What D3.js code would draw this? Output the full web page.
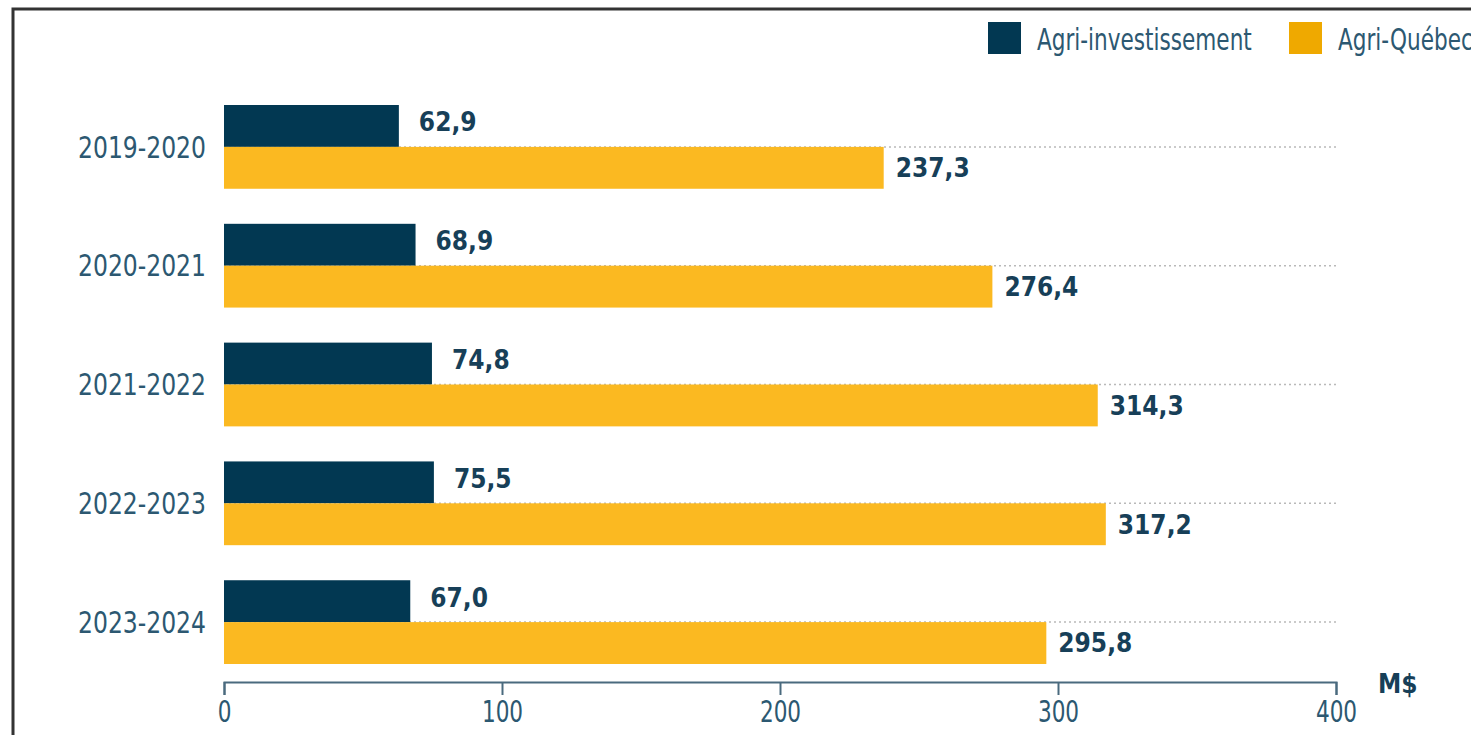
<!DOCTYPE html>
<html>
<head>
<meta charset="utf-8">
<script src="https://cdn.jsdelivr.net/npm/d3@7"></script>
<style>
  html, body { margin: 0; padding: 0; background: #fff; }
  svg { display: block; }
  .reg { font-family: "DejaVu Sans Condensed", "Liberation Sans Narrow", sans-serif; }
  .bold { font-family: "DejaVu Sans Condensed", "Liberation Sans Narrow", sans-serif; font-weight: bold; }
</style>
</head>
<body>
<svg id="chart"></svg>
<script>
const categories = ["2019-2020", "2020-2021", "2021-2022", "2022-2023", "2023-2024"];
const series = ["Agri-investissement", "Agri-Québec"];
const agriInvestissement = [62.9, 68.9, 74.8, 75.5, 67.0];
const agriQuebec = [237.3, 276.4, 314.3, 317.2, 295.8];
const xTicks = [0, 100, 200, 300, 400];
const unitLabel = "M$";

const barColors = ["#023852", "#FBB921"];
const legendColors = ["#023852", "#EFA900"];
const textColor = "#2c5871";
const valueColor = "#173f58";
const axisColor = "#4a6a7e";

const W = 1471, H = 735;
const svg = d3.select("#chart")
    .attr("width", W)
    .attr("height", H)
    .attr("viewBox", [0, 0, W, H]);

// frame
svg.append("path")
    .attr("d", "M13,735V9H1471")
    .attr("fill", "none")
    .attr("stroke", "#333")
    .attr("stroke-width", 3);

const x = d3.scaleLinear().domain([0, 400]).range([224, 1336]);
const y = d3.scaleBand().domain(categories).range([105, 664]).paddingInner(0.295);
const ySub = d3.scaleBand().domain(series).range([0, y.bandwidth()]);

const rows = categories.map((c, i) => ({cat: c, values: [agriInvestissement[i], agriQuebec[i]]}));

// dotted guide lines
svg.append("g").selectAll("line")
    .data(categories)
    .join("line")
    .attr("x1", x(0))
    .attr("x2", x(400))
    .attr("y1", d => y(d) + y.bandwidth() / 2)
    .attr("y2", d => y(d) + y.bandwidth() / 2)
    .attr("stroke", "#b9b9b9")
    .attr("stroke-width", 1.5)
    .attr("stroke-dasharray", "2,3");

const group = svg.append("g").selectAll("g")
    .data(rows)
    .join("g")
    .attr("transform", d => "translate(0," + y(d.cat) + ")");

group.selectAll("rect")
    .data(d => d.values.map((v, i) => ({s: series[i], v: v, i: i})))
    .join("rect")
    .attr("x", x(0))
    .attr("y", d => ySub(d.s))
    .attr("width", d => x(d.v) - x(0))
    .attr("height", ySub.bandwidth())
    .attr("fill", d => barColors[d.i]);

const labelOffset = [20, 12];
group.selectAll("text.val")
    .data(d => d.values.map((v, i) => ({s: series[i], v: v, i: i})))
    .join("text")
    .attr("class", "val bold")
    .attr("x", d => x(d.v) + labelOffset[d.i])
    .attr("y", d => ySub(d.s) + ySub.bandwidth() / 2 - (d.i === 0 ? 4 : 0))
    .attr("dy", "0.36em")
    .attr("font-size", 26)
    .attr("fill", valueColor)
    .text(d => d3.format(".1f")(d.v).replace(".", ","));

// category labels (narrowed to mimic the condensed face)
svg.append("g").selectAll("text")
    .data(categories)
    .join("text")
    .attr("class", "reg")
    .attr("transform", d => "translate(206," + (y(d) + y.bandwidth() / 2) + ") scale(0.87,1)")
    .attr("dy", "0.36em")
    .attr("text-anchor", "end")
    .attr("font-size", 30)
    .attr("fill", textColor)
    .text(d => d);

// x axis
const axis = svg.append("g")
    .attr("transform", "translate(0,682)")
    .call(d3.axisBottom(x).tickValues(xTicks).tickSize(13).tickSizeOuter(13).tickPadding(6));
axis.selectAll("path, line").attr("stroke", axisColor).attr("stroke-width", 2);
axis.selectAll("text")
    .attr("class", "reg")
    .attr("font-size", 30)
    .attr("transform", "scale(0.8,1)")
    .attr("fill", textColor);

svg.append("text")
    .attr("class", "bold")
    .attr("x", 1378)
    .attr("y", 693)
    .attr("font-size", 26)
    .attr("fill", valueColor)
    .text(unitLabel);

// legend
const legendX = [988, 1289];
const legend = svg.append("g").selectAll("g")
    .data(series)
    .join("g")
    .attr("transform", (d, i) => "translate(" + legendX[i] + ",22)");
legend.append("rect")
    .attr("width", 33)
    .attr("height", 32)
    .attr("fill", (d, i) => legendColors[i]);
legend.append("text")
    .attr("class", "reg")
    .attr("transform", "translate(49,28) scale(0.8,1)")
    .attr("font-size", 30)
    .attr("fill", textColor)
    .text(d => d);
</script>
</body>
</html>
